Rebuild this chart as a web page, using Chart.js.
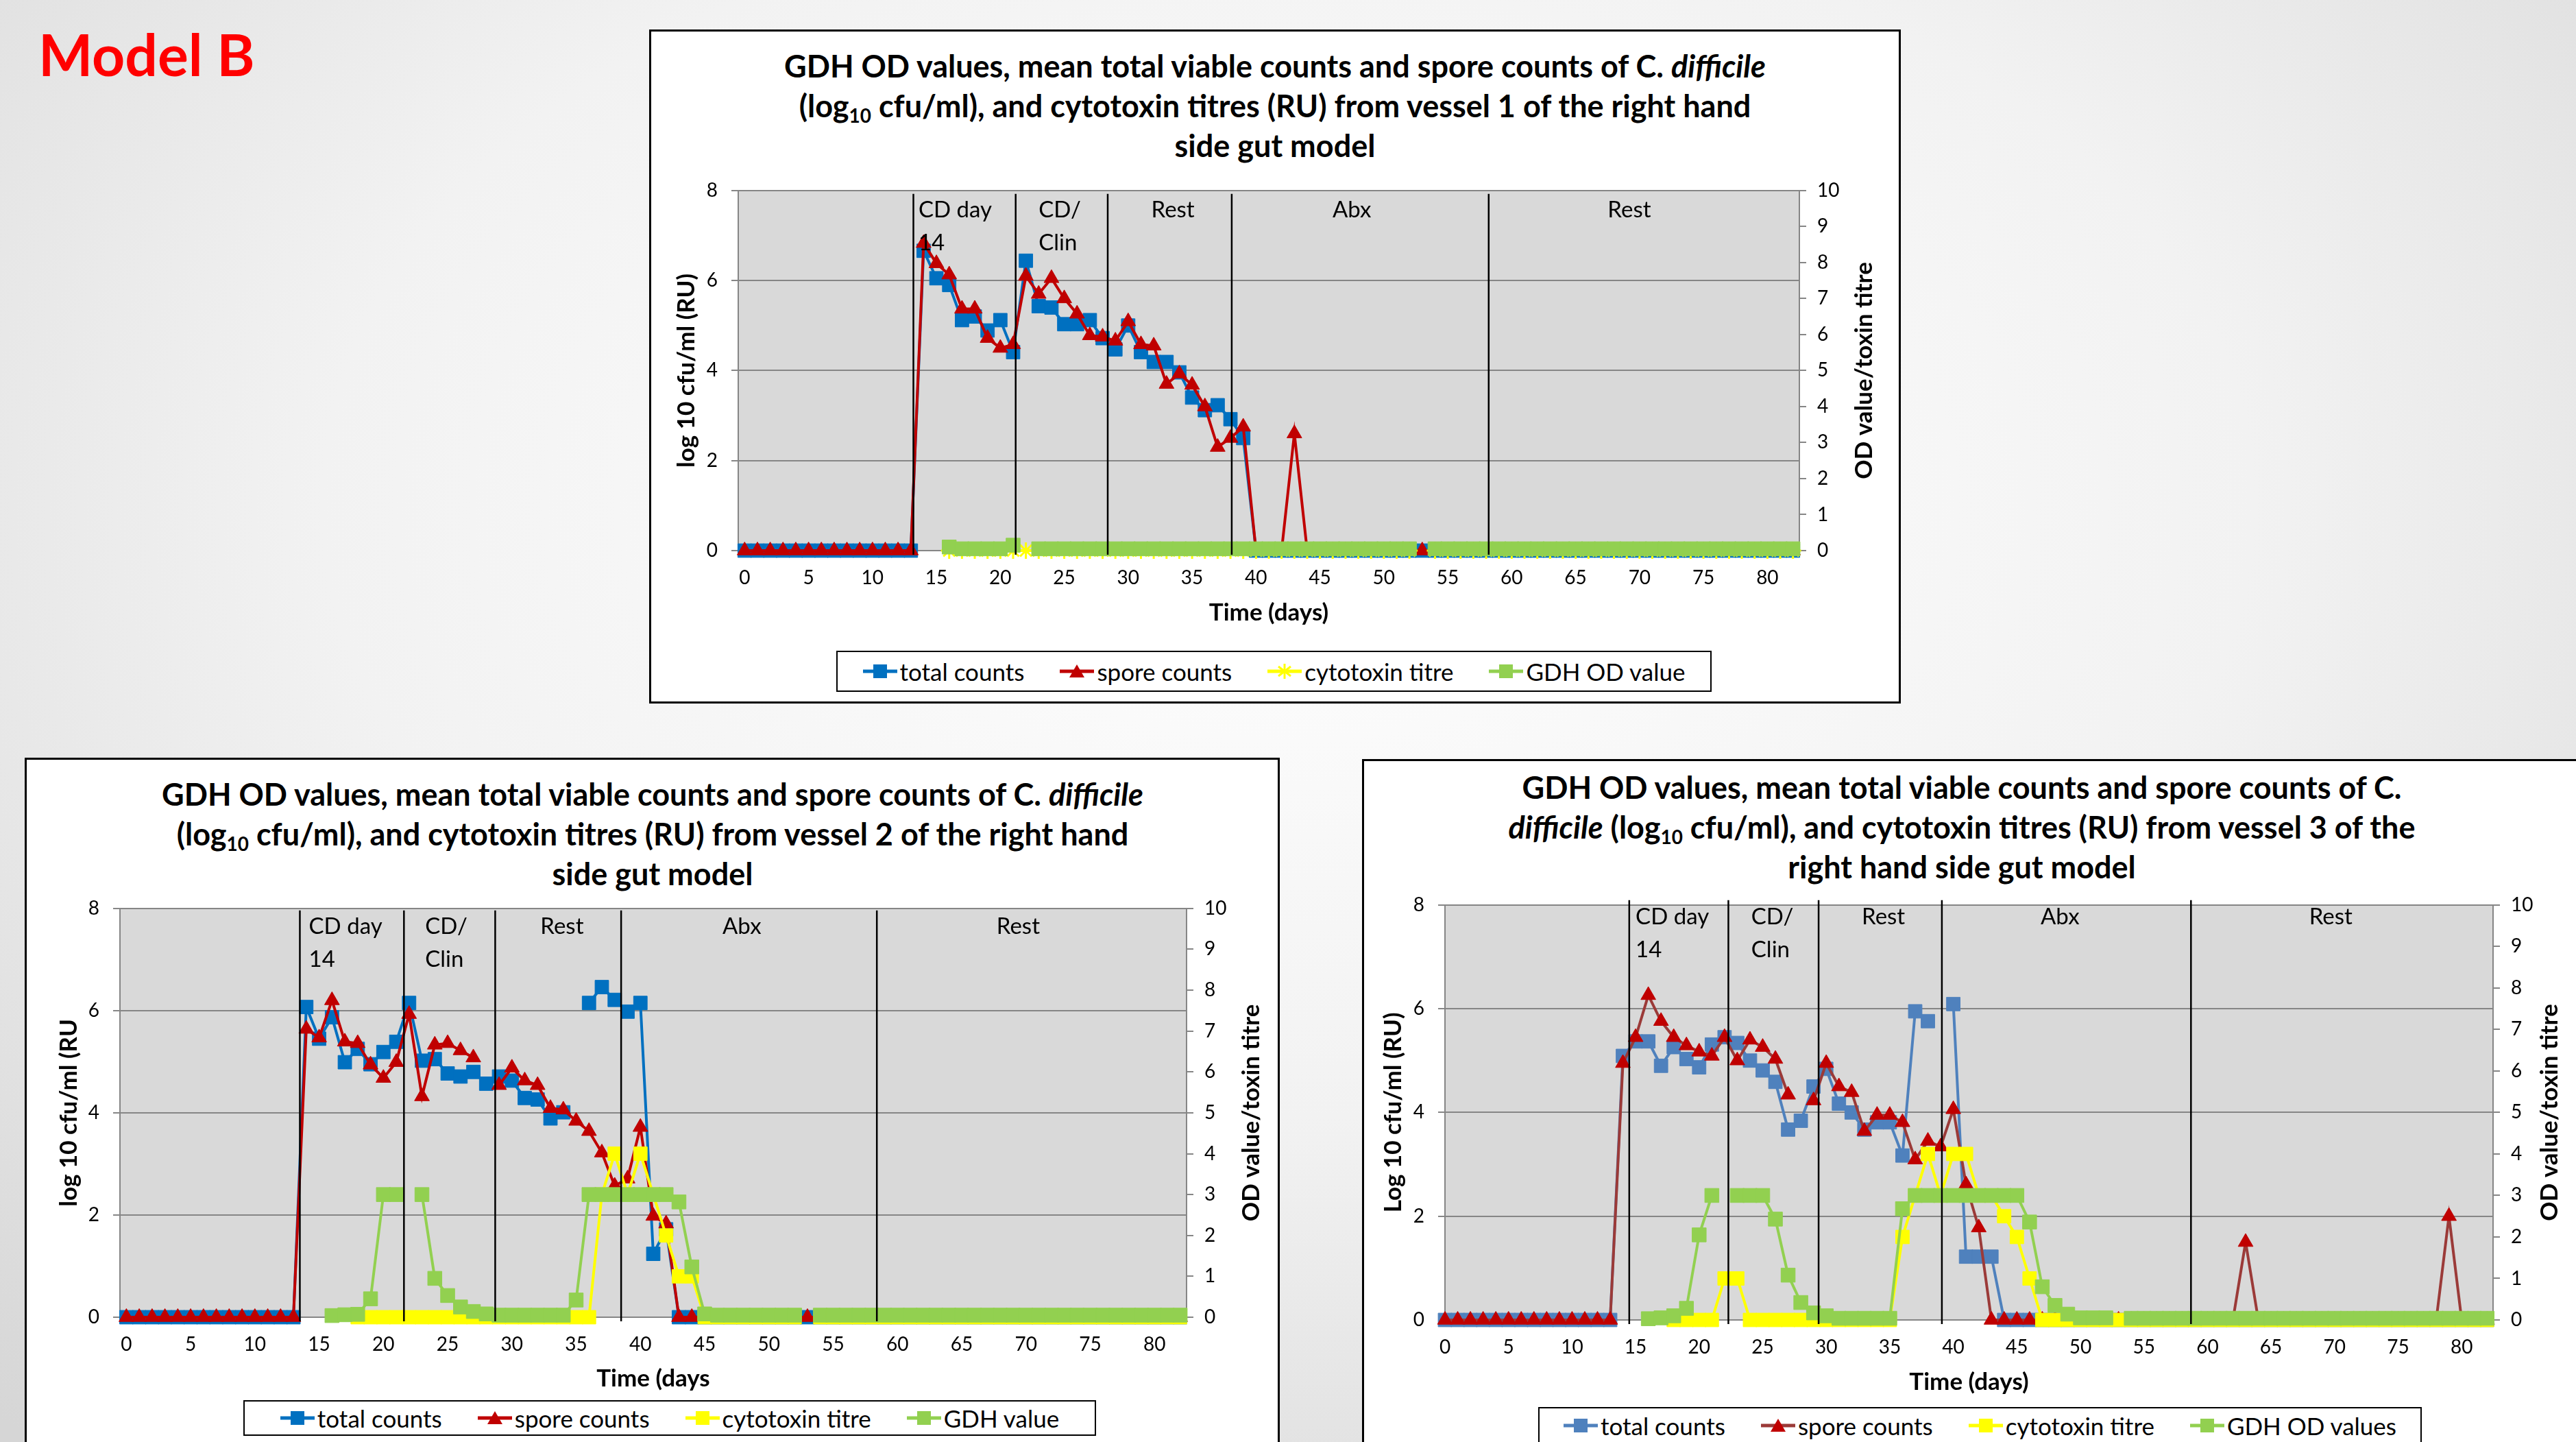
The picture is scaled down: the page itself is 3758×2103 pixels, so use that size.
<!DOCTYPE html>
<html lang="en">
<head>
<meta charset="UTF-8">
<title>Model B - right hand side gut model</title>
<script src="https://cdn.jsdelivr.net/npm/chart.js@4"></script>
<style>
  html, body { margin: 0; padding: 0; }
  body {
    width: 3758px; height: 2103px; overflow: hidden; position: relative;
    background: radial-gradient(ellipse 75% 85% at 50% 35%, #ffffff 0%, #f2f2f2 50%, #d6d6d6 100%);
    font-family: Lato, 'Open Sans', sans-serif;
  }
  .model { position: absolute; left: 56px; top: 28px; font-size: 84px; font-weight: 700; color: #ff0000; }
  .box { position: absolute; background: #fff; border: 3px solid #000; box-sizing: border-box; }
  .ttl {
    position: absolute; transform: translateX(-50%); white-space: nowrap; text-align: center;
    font-weight: 700; font-size: 45px; line-height: 58px; color: #000;
  }
  .ttl sub { font-size: 0.62em; line-height: 0; vertical-align: -0.3em; }
  canvas { position: absolute; }
  .legend {
    position: absolute; border: 2px solid #000; box-sizing: border-box; background: #fff;
    display: flex; align-items: center; justify-content: center; gap: 52px; font-size: 35px; color: #000;
  }
  .item { display: flex; align-items: center; }
  .item svg { margin-right: 4px; }
</style>
</head>
<body>
<div class="model">Model B</div>

<div class="box" style="left:947px;top:43px;width:1826px;height:983px"></div>
<div class="box" style="left:36px;top:1105px;width:1831px;height:1020px"></div>
<div class="box" style="left:1987px;top:1107px;width:1850px;height:1020px"></div>

<div class="ttl" style="left:1860px;top:67px">GDH OD values, mean total viable counts and spore counts of C. <i>difficile</i><br>(log<sub>10</sub> cfu/ml), and cytotoxin titres (RU) from vessel 1 of the right hand<br>side gut model</div>
<div class="ttl" style="left:952px;top:1129px">GDH OD values, mean total viable counts and spore counts of C. <i>difficile</i><br>(log<sub>10</sub> cfu/ml), and cytotoxin titres (RU) from vessel 2 of the right hand<br>side gut model</div>
<div class="ttl" style="left:2862px;top:1119px">GDH OD values, mean total viable counts and spore counts of C.<br><i>difficile</i> (log<sub>10</sub> cfu/ml), and cytotoxin titres (RU) from vessel 3 of the<br>right hand side gut model</div>

<canvas id="v1" width="1810" height="689" style="left:960px;top:241px"></canvas>
<canvas id="v2" width="1810" height="747" style="left:50px;top:1288px"></canvas>
<canvas id="v3" width="1763" height="762" style="left:1995px;top:1283px"></canvas>

<div class="legend" id="lg1" style="left:1220px;top:949px;width:1277px;height:60px"></div>
<div class="legend" id="lg2" style="left:355px;top:2042px;width:1244px;height:52px"></div>
<div class="legend" id="lg3" style="left:2244px;top:2052px;width:1289px;height:54px"></div>

<script>
// days sampled (category axis of every chart)
const days = [0,1,2,3,4,5,6,7,8,9,10,11,12,13,14,15,16,17,18,19,20,21,22,23,24,25,26,27,28,29,
  30,31,32,33,34,35,36,37,38,39,40,41,42,43,44,45,46,47,48,49,50,51,52,53,54,55,56,57,58,59,
  60,61,62,63,64,65,66,67,68,69,70,71,72,73,74,75,76,77,78,79,80,81,82];
const xTicks = [0,5,10,15,20,25,30,35,40,45,50,55,60,65,70,75,80];

// vessel 1 (log10 cfu/ml on left axis, OD / titre on right axis)
const total1 = [0,0,0,0,0,0,0,0,0,0, 0,0,0,0,6.66,6.05,5.9,5.12,5.2,4.89,
  5.12,4.41,6.44,5.43,5.4,5.03,5.03,5.12,4.72,4.47, 5.0,4.41,4.19,4.19,3.96,3.4,3.12,3.23,2.92,2.5,
  0,0,0,0,0,0,0,0,0,0, 0,0,0,0,0,0,0,0,0,0, 0,0,0,0,0,0,0,0,0,0, 0,0,0,0,0,0,0,0,0,0, 0,0,0];
const spore1 = [0,0,0,0,0,0,0,0,0,0, 0,0,0,0,6.83,6.38,6.13,5.37,5.37,4.72,
  4.5,4.58,6.1,5.7,6.05,5.6,5.26,4.78,4.75,4.66, 5.09,4.58,4.55,3.7,3.93,3.68,3.2,2.3,2.5,2.75,
  0,0,0,2.6,0,0,0,0,0,0, 0,0,0,0,0,0,0,0,0,0, 0,0,0,0,0,0,0,0,0,0, 0,0,0,0,0,0,0,0,0,0, 0,0,0];
const cyto1 = [null,null,null,null,null,null,null,null,null,null, null,null,null,null,null,null,0,0,0,0,
  0,0,0,0,0,0,0,0,0,0, 0,0,0,0,0,0,0,0,0,0, 0,0,0,0,0,0,0,0,0,0,
  0,0,0,null,0,0,0,0,0,0, 0,0,0,0,0,0,0,0,0,0, 0,0,0,0,0,0,0,0,0,0, 0,0,0];
const gdh1 = [null,null,null,null,null,null,null,null,null,null, null,null,null,null,null,null,0.1,0.05,0.05,0.05,
  0.05,0.15,null,0.05,0.05,0.05,0.05,0.05,0.05,0.05, 0.05,0.05,0.05,0.05,0.05,0.05,0.05,0.05,0.05,0.05,
  0.05,0.05,0.05,0.05,0.05,0.05,0.05,0.05,0.05,0.05, 0.05,0.05,0.05,null,0.05,0.05,0.05,0.05,0.05,0.05,
  0.05,0.05,0.05,0.05,0.05,0.05,0.05,0.05,0.05,0.05, 0.05,0.05,0.05,0.05,0.05,0.05,0.05,0.05,0.05,0.05, 0.05,0.05,0.05];

// vessel 2
const total2 = [0,0,0,0,0,0,0,0,0,0, 0,0,0,0,6.07,5.45,5.87,4.99,5.25,4.95,
  5.19,5.39,6.15,5.02,5.05,4.77,4.71,4.8,4.57,4.71, 4.63,4.29,4.26,3.89,4.01,null,6.15,6.46,6.21,5.98,
  6.15,1.24,1.72,0,0,0,0,0,0,0, 0,0,0,0,0,0,0,0,0,0, 0,0,0,0,0,0,0,0,0,0, 0,0,0,0,0,0,0,0,0,0, 0,0,0];
const spore2 = [0,0,0,0,0,0,0,0,0,0, 0,0,0,0,5.64,5.47,6.2,5.39,5.36,4.94,
  4.68,4.99,5.93,4.32,5.33,5.36,5.22,5.08,null,4.54, 4.88,4.63,4.54,4.09,4.06,3.84,3.64,3.22,2.57,2.71,
  3.72,1.98,1.83,0,0,0,0,0,0,0, 0,0,0,0,0,0,0,0,0,0, 0,0,0,0,0,0,0,0,0,0, 0,0,0,0,0,0,0,0,0,0, 0,0,0];
const cyto2 = [null,null,null,null,null,null,null,null,null,null, null,null,null,null,null,null,null,null,0,0,
  0,0,0,0,0,0,0,0,0,0, 0,0,0,0,0,0,0,3,4,3, 4,3,2,1,1,0,0,0,0,0,
  0,0,0,null,0,0,0,0,0,0, 0,0,0,0,0,0,0,0,0,0, 0,0,0,0,0,0,0,0,0,0, 0,0,0];
const gdh2 = [null,null,null,null,null,null,null,null,null,null, null,null,null,null,null,null,0.04,0.06,0.07,0.45,
  3,3,null,3,0.95,0.53,0.25,0.14,0.08,0.05, 0.05,0.05,0.05,0.05,0.05,0.42,3,3,3,3,
  3,3,3,2.82,1.23,0.08,0.05,0.05,0.05,0.05, 0.05,0.05,0.05,null,0.05,0.05,0.05,0.05,0.05,0.05,
  0.05,0.05,0.05,0.05,0.05,0.05,0.05,0.05,0.05,0.05, 0.05,0.05,0.05,0.05,0.05,0.05,0.05,0.05,0.05,0.05, 0.05,0.05,0.05];

// vessel 3
const total3 = [0,0,0,0,0,0,0,0,0,0, 0,0,0,0,5.09,5.37,5.37,4.9,5.26,5.03,
  4.87,5.31,5.45,5.34,5.0,4.81,4.59,3.67,3.84,4.5, 4.84,4.17,4.0,3.67,3.81,3.81,3.17,5.95,5.76,null,
  6.09,1.22,1.22,1.22,0,0,0,0,0,0, 0,0,0,0,0,0,0,0,0,0, 0,0,0,0,0,0,0,0,0,0, 0,0,0,0,0,0,0,0,0,0, 0,0,0];
const spore3 = [0,0,0,0,0,0,0,0,0,0, 0,0,0,0,4.95,5.45,6.26,5.76,5.45,5.29,
  5.17,5.09,5.45,5.0,5.4,5.26,5.03,4.34,null,4.23, 4.95,4.5,4.39,3.64,3.95,3.95,3.81,3.09,3.45,3.34,
  4.06,2.61,1.78,0,0,0,0,0,0,0, 0,0,0,0,0,0,0,0,0,0, 0,0,0,1.5,0,0,0,0,0,0, 0,0,0,0,0,0,0,0,0,2.0, 0,0,0];
const cyto3 = [null,null,null,null,null,null,null,null,null,null, null,null,null,null,null,null,null,null,0,0,
  0,0,1,1,0,0,0,0,0,0, 0,0,0,0,0,0,2,3,4,3, 4,4,3,3,2.5,2,1,0,0,0,
  0,0,0,0,0,0,0,0,0,0, 0,0,0,0,0,0,0,0,0,0, 0,0,0,0,0,0,0,0,0,0, 0,0,0];
const gdh3 = [null,null,null,null,null,null,null,null,null,null, null,null,null,null,null,null,0.03,0.05,0.1,0.28,
  2.05,3,null,3,3,3,2.43,1.08,0.42,0.17, 0.1,0.04,0.04,0.04,0.04,0.04,2.68,3,3,3,
  3,3,3,3,3,3,2.36,0.8,0.35,0.14, 0.05,0.05,0.05,null,0.04,0.04,0.04,0.04,0.04,0.04,
  0.04,0.04,0.04,0.04,0.04,0.04,0.04,0.04,0.04,0.04, 0.04,0.04,0.04,0.04,0.04,0.04,0.04,0.04,0.04,0.04, 0.04,0.04,0.04];

// phase dividers (days) and their labels
const phaseNames = [['CD day', '14'], ['CD/', 'Clin'], ['Rest'], ['Abx'], ['Rest']];
const phases1 = [13.2, 21.2, 28.4, 38.1, 58.2];
const phaseAt1 = [13.6, 23.0, 33.5, 47.5, 69.2];
const phases2 = [13.5, 21.6, 28.7, 38.5, 58.4];
const phaseAt2 = [14.2, 23.25, 33.9, 47.9, 69.4];
const phases3 = [14.5, 22.3, 29.4, 39.1, 58.7];
const phaseAt3 = [15.0, 24.1, 34.5, 48.4, 69.7];

const FONT = 'Lato';

const phasePlugin = {
  id: 'phases',
  afterDatasetsDraw(chart, args, o) {
    const { ctx, chartArea: a, scales: { x } } = chart;
    ctx.save();
    ctx.strokeStyle = '#000';
    ctx.lineWidth = 2.5;
    o.lines.forEach(d => {
      const px = x.getPixelForValue(d);
      ctx.beginPath();
      ctx.moveTo(px, a.top + o.lineTop);
      ctx.lineTo(px, a.bottom + 6);
      ctx.stroke();
    });
    ctx.fillStyle = '#000';
    ctx.font = '33px ' + FONT;
    ctx.textBaseline = 'middle';
    phaseNames.forEach((txt, i) => {
      ctx.textAlign = i < 2 ? 'left' : 'center';
      txt.forEach((t, k) => ctx.fillText(t, x.getPixelForValue(o.at[i]), a.top + o.textTop + k * 48));
    });
    // right axis title reads bottom to top
    ctx.translate(a.right + o.rightOff, (a.top + a.bottom) / 2);
    ctx.rotate(-Math.PI / 2);
    ctx.textAlign = 'center';
    ctx.font = 'bold 35px ' + FONT;
    ctx.fillText('OD value/toxin titre', 0, 0);
    ctx.restore();
  }
};

const plotBg = {
  id: 'plotBg',
  beforeDraw(chart) {
    const { ctx, chartArea: a } = chart;
    ctx.save();
    ctx.fillStyle = '#d9d9d9';
    ctx.fillRect(a.left, a.top, a.right - a.left, a.bottom - a.top);
    ctx.restore();
  }
};
Chart.register(plotBg);

function pts(vals) {
  return days.map((d, i) => ({ x: d, y: vals[i] }));
}

function ds(label, vals, axis, line, fill, shape, radius, order) {
  return {
    label, data: pts(vals), yAxisID: axis, order,
    borderColor: line, backgroundColor: fill, borderWidth: 4,
    pointStyle: shape, pointRadius: radius, pointBackgroundColor: fill,
    pointBorderColor: fill, pointBorderWidth: shape === 'star' ? 3 : 1,
    tension: 0, clip: false
  };
}

function makeChart(id, sets, L) {
  const tickFont = { family: FONT, size: 28 };
  const titleFont = { family: FONT, size: 35, weight: 'bold' };
  new Chart(document.getElementById(id), {
    type: 'line',
    data: { datasets: sets },
    plugins: [phasePlugin],
    options: {
      responsive: false,
      animation: false,
      layout: { padding: { top: 28, left: 0, right: 0, bottom: 0 } },
      plugins: {
        legend: { display: false },
        tooltip: { enabled: false },
        phases: { lines: L.lines, at: L.at, lineTop: L.lineTop, textTop: L.textTop, rightOff: L.rightOff }
      },
      scales: {
        x: {
          type: 'linear', min: L.xMin, max: L.xMax,
          afterBuildTicks: s => { s.ticks = xTicks.map(v => ({ value: v })); },
          afterFit: s => { s.height = L.xH; },
          grid: { display: false, drawTicks: false },
          border: { display: true, color: '#868686', width: 2 },
          ticks: { font: tickFont, color: '#000', padding: 23, autoSkip: false, maxRotation: 0 },
          title: { display: true, text: L.xTitle, font: titleFont, color: '#000', padding: { top: 0, bottom: L.xTitlePad } }
        },
        y: {
          position: 'left', min: 0, max: 8,
          afterFit: s => { s.width = L.leftW; },
          ticks: { stepSize: 2, font: tickFont, color: '#000', padding: 20 },
          grid: { color: '#868686', lineWidth: 2, tickLength: 10 },
          border: { display: true, color: '#868686', width: 2 },
          title: { display: true, text: L.yTitle, font: titleFont, color: '#000', padding: { top: L.yTitlePad, bottom: 0 } }
        },
        y2: {
          position: 'right', min: 0, max: 10,
          afterFit: s => { s.width = L.rightW; },
          ticks: { stepSize: 1, font: tickFont, color: '#000', padding: 16 },
          grid: { drawOnChartArea: false, color: '#868686', lineWidth: 2, tickLength: 10 },
          border: { display: true, color: '#868686', width: 2 }
        }
      }
    }
  });
}

// legends
function icon(line, fill, shape) {
  let m = '';
  if (shape === 'rect') m = `<rect x="15" y="3" width="20" height="20" fill="${fill}"/>`;
  if (shape === 'triangle') m = `<polygon points="25,3 36,22 14,22" fill="${fill}"/>`;
  if (shape === 'star') m = `<g stroke="${fill}" stroke-width="3"><line x1="25" y1="2" x2="25" y2="24"/><line x1="16" y1="6" x2="34" y2="20"/><line x1="16" y1="20" x2="34" y2="6"/></g>`;
  return `<svg width="50" height="26" viewBox="0 0 50 26"><line x1="0" y1="13" x2="50" y2="13" stroke="${line}" stroke-width="5"/>${m}</svg>`;
}
function makeLegend(id, sets) {
  document.getElementById(id).innerHTML = sets.slice().sort((a, b) => b.order - a.order).map(s =>
    `<span class="item">${icon(s.borderColor, s.backgroundColor, s.pointStyle)}${s.label}</span>`).join('');
}

const sets1 = [
  ds('total counts', total1, 'y', '#0070C0', '#0070C0', 'rect', 14, 4),
  ds('spore counts', spore1, 'y', '#C00000', '#C00000', 'triangle', 12.5, 3),
  ds('cytotoxin titre', cyto1, 'y2', '#FFFF00', '#FFFF00', 'star', 12, 2),
  ds('GDH OD value', gdh1, 'y2', '#92D050', '#92D050', 'rect', 14.5, 1)
];
const sets2 = [
  ds('total counts', total2, 'y', '#0070C0', '#0070C0', 'rect', 14, 4),
  ds('spore counts', spore2, 'y', '#C00000', '#C00000', 'triangle', 12.5, 3),
  ds('cytotoxin titre', cyto2, 'y2', '#FFFF00', '#FFFF00', 'rect', 14, 2),
  ds('GDH value', gdh2, 'y2', '#92D050', '#92D050', 'rect', 14.5, 1)
];
const sets3 = [
  ds('total counts', total3, 'y', '#4F81BD', '#4F81BD', 'rect', 14, 4),
  ds('spore counts', spore3, 'y', '#9B3A38', '#C00000', 'triangle', 12.5, 3),
  ds('cytotoxin titre', cyto3, 'y2', '#FFFF00', '#FFFF00', 'rect', 14, 2),
  ds('GDH OD values', gdh3, 'y2', '#92D050', '#92D050', 'rect', 14.5, 1)
];

makeChart('v1', sets1, { lines: phases1, at: phaseAt1, lineTop: 5, textTop: 29, rightOff: 95,
  xMin: -0.5, xMax: 82.5, xH: 127, leftW: 117, rightW: 145,
  xTitle: 'Time (days)', xTitlePad: 15, yTitle: 'log 10 cfu/ml (RU)', yTitlePad: 21 });
makeChart('v2', sets2, { lines: phases2, at: phaseAt2, lineTop: 3, textTop: 27, rightOff: 95,
  xMin: -0.5, xMax: 82.5, xH: 114, leftW: 125, rightW: 129,
  xTitle: 'Time (days', xTitlePad: 3, yTitle: 'log 10 cfu/ml (RU', yTitlePad: 30 });
makeChart('v3', sets3, { lines: phases3, at: phaseAt3, lineTop: -7, textTop: 18, rightOff: 83,
  xMin: 0, xMax: 82.47, xH: 120, leftW: 113, rightW: 121,
  xTitle: 'Time (days)', xTitlePad: 8, yTitle: 'Log 10 cfu/ml (RU)', yTitlePad: 17 });

makeLegend('lg1', sets1);
makeLegend('lg2', sets2);
makeLegend('lg3', sets3);
</script>
</body>
</html>
